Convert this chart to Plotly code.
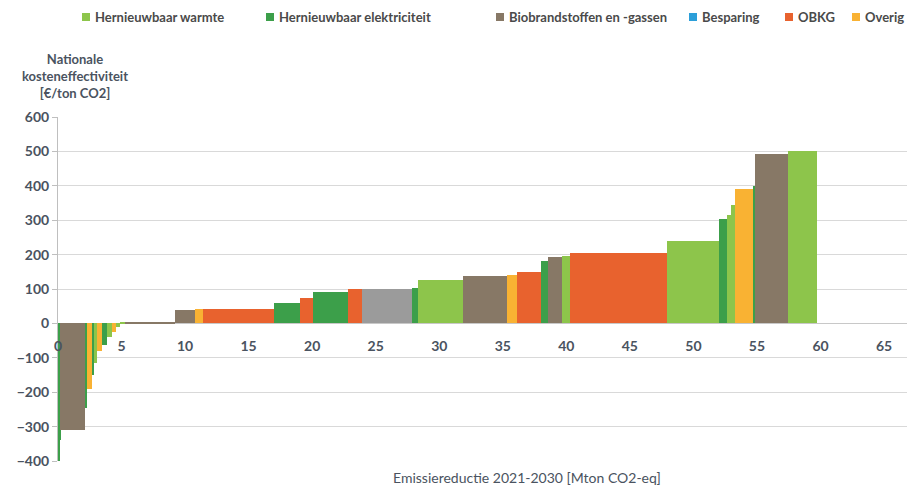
import plotly.graph_objects as go

# ---- data ----
series_names = ["Hernieuwbaar warmte", "Hernieuwbaar elektriciteit", "Biobrandstoffen en -gassen",
                "Besparing", "OBKG", "Overig"]
series_colors = ["#8dc54b", "#3c9f4a", "#877866", "#2c9fd9", "#e8622e", "#f9b233"]
other_name = "Overige maatregel"
other_color = "#9b9b9b"

# emission reduction (Mton CO2-eq) = bar widths, cost (EUR/ton CO2) = bar heights
widths = [0.08, 0.08, 1.97, 0.15, 0.37, 0.20, 0.25, 0.35, 0.40, 0.40, 0.35, 0.30,
          0.40, 3.90, 1.60, 0.60, 5.60, 2.05, 1.03, 2.75, 1.10, 3.94, 0.48, 3.54,
          3.46, 0.79, 1.89, 0.55, 1.11, 0.62, 7.64, 4.10, 0.63, 0.25, 0.38, 1.34,
          0.23, 2.60, 2.28]
costs = [-400, -340, -310, -245, -190, -150, -115, -80, -63, -40, -24, -10,
         2, 4, 40, 42, 43, 58, 75, 90, 101, 100, 104, 125,
         137, 142, 148, 180, 194, 197, 204, 240, 304, 316, 345, 390,
         400, 493, 500]
categories = ["elec", "elec", "bio", "elec", "overig", "elec", "warm", "overig", "elec", "warm", "overig", "warm",
              "warm", "bio", "bio", "overig", "obkg", "elec", "obkg", "elec", "obkg", "other", "elec", "warm",
              "bio", "overig", "obkg", "elec", "bio", "warm", "obkg", "warm", "elec", "warm", "warm", "overig",
              "elec", "bio", "warm"]
cat_keys = ["warm", "elec", "bio", "besparing", "obkg", "overig"]

x_ticks = list(range(0, 70, 5))
y_ticks = list(range(-400, 700, 100))

# ---- build positions from cumulative widths ----
starts = []
acc = 0.0
for w in widths:
    starts.append(acc)
    acc += w
centers = [s + w / 2 for s, w in zip(starts, widths)]

fig = go.Figure()
for key, name, color in zip(cat_keys, series_names, series_colors):
    idx = [i for i, c in enumerate(categories) if c == key]
    fig.add_trace(go.Bar(x=[centers[i] for i in idx], y=[costs[i] for i in idx],
                         width=[widths[i] for i in idx], name=name,
                         marker=dict(color=color, line=dict(width=0))))
idx = [i for i, c in enumerate(categories) if c == "other"]
fig.add_trace(go.Bar(x=[centers[i] for i in idx], y=[costs[i] for i in idx],
                     width=[widths[i] for i in idx], name=other_name,
                     marker=dict(color=other_color, line=dict(width=0))))

txt = "#4a5360"
# page coordinates of the plot area (the page body adds an 8px offset)
OFF = 8
PL, PR, PT, PB = 58, 912, 117, 461
PW, PH = PR - PL, PB - PT
FIG_W, FIG_H = 915 - OFF, 492 - OFF


def px_x(px):
    return (px - PL) / PW


def px_y(py):
    return (PB - py) / PH


# legend drawn as squares + text (positions in page pixels)
legend_pos = [82, 266, 496, 689, 785, 852]
legend_y = 17
shapes = []
annotations = []
for name, color, lx in zip(series_names, series_colors, legend_pos):
    shapes.append(dict(type="rect", xref="paper", yref="paper",
                       x0=px_x(lx), x1=px_x(lx + 8), y0=px_y(legend_y + 4), y1=px_y(legend_y - 4),
                       fillcolor=color, line=dict(width=0)))
    annotations.append(dict(text=name, xref="paper", yref="paper", x=px_x(lx + 11), y=px_y(legend_y),
                            xanchor="left", yanchor="middle", showarrow=False,
                            font=dict(size=13, color="#4a4a4a", weight="bold")))

annotations += [
    dict(text="Nationale<br>kosteneffectiviteit<br>[€/ton CO2]", xref="paper", yref="paper",
         x=px_x(75), y=px_y(76), xanchor="center", yanchor="middle",
         showarrow=False, align="center",
         font=dict(size=13, color=txt, weight="bold")),
    dict(text="Emissiereductie 2021-2030 [Mton CO2-eq]", xref="paper", yref="paper",
         x=px_x(527), y=px_y(477), xanchor="center", yanchor="middle",
         showarrow=False, font=dict(size=14, color=txt)),
]

fig.update_layout(
    width=FIG_W, height=FIG_H,
    margin=dict(l=PL - OFF, r=FIG_W - (PR - OFF), t=PT - OFF, b=FIG_H - (PB - OFF)),
    paper_bgcolor="white", plot_bgcolor="white",
    barmode="overlay", bargap=0,
    font=dict(family="Lato, Open Sans, sans-serif", color=txt),
    showlegend=False,
    xaxis=dict(range=[0, 67.2], tickvals=x_ticks, ticktext=[str(v) for v in x_ticks],
               anchor="free", position=0.4, showgrid=False, zeroline=False, showline=False,
               ticks="outside", ticklen=10, tickcolor="rgba(0,0,0,0)",
               tickfont=dict(size=14, color=txt, weight="bold")),
    yaxis=dict(range=[-400, 600], tickvals=y_ticks, showgrid=True, gridcolor="#d9d9d9",
               gridwidth=1, zeroline=True, zerolinecolor="#c8c8c8", zerolinewidth=1,
               showline=True, linecolor="#bfbfbf", linewidth=1,
               ticks="outside", ticklen=5, tickcolor="#bfbfbf",
               tickfont=dict(size=14, color=txt, weight="bold")),
    shapes=shapes,
    annotations=annotations,
)

fig.write_html("out.html")
